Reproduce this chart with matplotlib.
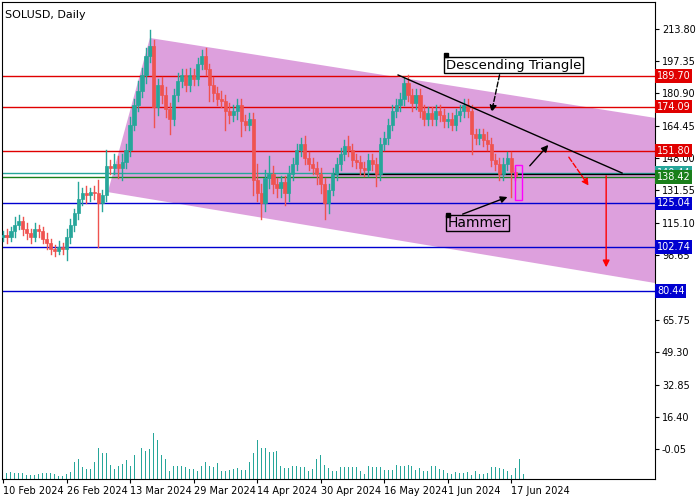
import matplotlib
matplotlib.use("Agg")
import matplotlib.pyplot as plt
from matplotlib.patches import Polygon, Rectangle

closes = [109,108,111,114,116,112,110,108,112,111,107,105,102,101,103,102,108,
          114,120,127,130,129,131,130,125,129,144,143,145,143,146,152,165,175,182,190,200,205,
          174,185,180,173,168,180,187,190,185,190,188,196,200,193,185,181,178,177,172,170,172,175,
          167,165,168,137,130,125,138,140,135,133,136,130,140,145,152,155,148,145,143,140,135,125,
          132,140,145,150,154,152,147,146,143,142,147,145,140,155,158,165,172,175,178,186,180,176,
          180,172,168,171,168,172,170,167,168,165,170,172,175,172,160,158,160,157,155,147,145,140,
          145,148,141,139]
wick_up = [2,3,2,4,3,2,3,2,3,2,2,3,2,2,3,2,4,
           3,2,9,3,4,2,3,7,3,8,3,5,4,4,3,4,3,5,4,4,8,
           3,3,4,4,3,3,4,3,3,4,3,3,3,4,3,4,3,4,3,4,3,3,
           3,3,3,3,8,5,4,9,4,3,3,3,4,3,3,3,4,3,3,3,3,3,
           3,3,3,3,3,5,3,3,3,3,3,3,3,3,3,3,3,3,3,3,4,3,
           3,3,3,3,3,3,3,3,3,3,3,3,3,3,3,3,3,3,4,3,3,3,
           3,3,3,2]
wick_dn = [2,3,2,3,2,3,3,3,2,3,2,3,3,3,2,3,6,
           3,3,3,3,4,3,3,22,4,3,3,3,5,6,3,3,3,3,3,4,3,
           10,4,4,4,8,3,3,3,3,3,3,3,3,3,8,4,3,3,10,4,3,4,
           8,3,3,8,4,8,4,5,5,5,5,6,4,3,3,3,3,3,3,5,5,8,
           5,3,3,3,3,3,3,3,3,3,3,3,6,3,3,3,3,3,3,3,3,4,
           3,3,3,3,3,3,3,3,3,3,3,3,3,3,10,3,3,3,3,3,3,3,
           3,3,13,2]
volumes = [4,6,7,6,6,6,4,4,4,5,6,6,6,5,3,3,5,
           7,17,20,12,10,10,17,32,26,26,14,10,13,15,19,13,24,48,32,28,30,47,40,
           24,20,8,13,13,13,12,10,10,8,13,17,13,12,16,8,8,9,10,11,9,9,17,
           26,40,31,31,27,27,28,13,11,11,13,13,12,12,8,10,20,24,14,11,8,8,
           12,12,12,12,12,8,5,13,12,12,12,9,9,9,14,13,13,14,13,9,11,8,8,
           13,13,10,9,6,5,7,6,6,7,4,8,5,5,6,12,12,11,10,8,4,11,20,5]
tick_pos = [0,16,32,48,64,80,96,112,128]
tick_labels = ["10 Feb 2024","26 Feb 2024","13 Mar 2024","29 Mar 2024","14 Apr 2024",
               "30 Apr 2024","16 May 2024","1 Jun 2024","17 Jun 2024"]
price_ticks = [213.80,197.35,180.90,164.45,148.00,131.55,115.10,98.65,65.75,49.30,32.85,16.40,-0.05]
levels = [189.70,174.09,151.80,140.44,138.42,125.04,102.74,80.44]
level_colors = ["#e00000","#e00000","#e00000","#26a69a","#1a7f1a","#0000d0","#0000d0","#0000d0"]

BULL = "#26a69a"; BEAR = "#ef5350"
fig = plt.figure(figsize=(7,5), dpi=100)
ax = fig.add_axes([2/700, 21/500, 653/700, 477/500])
ax.set_xlim(-0.25, 164.2)
ax.set_ylim(-15.1, 227.3)

# channel
ax.add_patch(Polygon([(37.0,209.0),(164.2,168.4),(164.2,84.5),(26.4,130.7)],
                     closed=True, fc="#dda0dd", ec="none", zorder=0))

for lv, c in zip(levels, level_colors):
    ax.axhline(lv, color=c, lw=1, zorder=1)
ax.plot([83, 164.2],[140.0,140.0], color="black", lw=1, zorder=1)

# candles
for i, c in enumerate(closes):
    o = closes[i-1] if i > 0 else c - 1
    col = BULL if c >= o else BEAR
    hi = max(o, c) + wick_up[i]; lo = min(o, c) - wick_dn[i]
    ax.plot([i, i], [lo, hi], color=col, lw=1, zorder=3)
    ax.add_patch(Rectangle((i-0.4, min(o, c)), 0.8, max(abs(c-o), 0.4), fc=col, ec=col, lw=0.5, zorder=3))

# volume
vscale = 0.5
ax.bar(range(len(volumes)), [v*vscale for v in volumes], bottom=-15.1, width=0.25, color=BULL, zorder=2)

# annotations
ax.plot([99.5,155.9],[190.2,140.4], color="black", lw=1, zorder=4)
ax.annotate("", xy=(137.8,155.7), xytext=(132.2,143.0),
            arrowprops=dict(arrowstyle="-|>", color="black", lw=1), zorder=5)
ax.annotate("", xy=(147.9,132.8), xytext=(142.1,149.6),
            arrowprops=dict(arrowstyle="-|>", color="red", lw=1, ls="--"), zorder=5)
ax.annotate("", xy=(151.9,91.1), xytext=(151.9,140.4),
            arrowprops=dict(arrowstyle="-|>", color="red", lw=1), zorder=5)
ax.add_patch(Rectangle((129.0,126.9), 1.7, 17.8, fc="none", ec="#ff00ff", lw=1, zorder=5))
ax.annotate("", xy=(127.7,128.7), xytext=(115.1,119.0),
            arrowprops=dict(arrowstyle="-|>", color="black", lw=1), zorder=5)
ax.text(112.0,113.0,"Hammer", fontsize=10, color="black", zorder=6,
        bbox=dict(fc="none", ec="black", lw=1, pad=1))
ax.plot([112.0],[119.2], marker="s", ms=3, color="black", zorder=6)
ax.annotate("", xy=(122.9,169.9), xytext=(125.2,191.7),
            arrowprops=dict(arrowstyle="-|>", color="black", lw=1, ls="--"), zorder=5)
ax.text(111.5,193.5,"Descending Triangle", fontsize=9.5, color="black", zorder=6,
        bbox=dict(fc="white", ec="black", lw=1, pad=1))
ax.plot([111.5],[200.6], marker="s", ms=3, color="black", zorder=6)
ax.text(0.5, 223, "SOLUSD, Daily", fontsize=8, va="top", ha="left")

ax.yaxis.tick_right()
ax.set_yticks(price_ticks)
ax.set_yticklabels([f"{p:.2f}" for p in price_ticks], fontsize=7)
ax.tick_params(axis="y", length=3, pad=2)
ax.set_xticks(tick_pos)
ax.set_xticklabels(tick_labels, fontsize=7, ha="left")
ax.tick_params(axis="x", length=3, pad=2)

for lv, c in zip(levels, level_colors):
    ax.text(1.003, lv, f"{lv:.2f}", transform=ax.get_yaxis_transform(), fontsize=7,
            color="white", va="center", ha="left", zorder=7,
            bbox=dict(fc=c, ec="none", pad=1.2))
fig.savefig("out.png", dpi=100)
